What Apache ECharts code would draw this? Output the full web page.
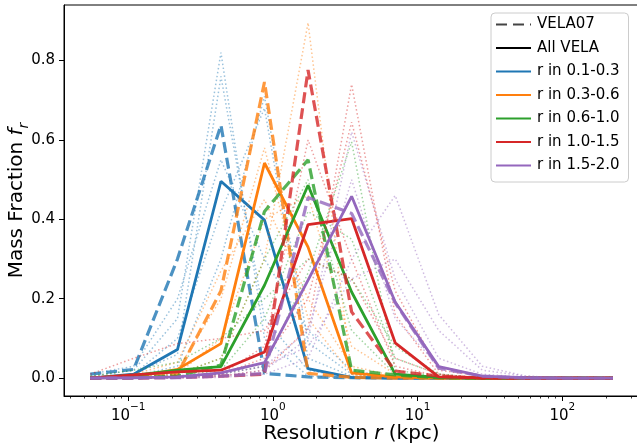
<!DOCTYPE html>
<html><head><meta charset="utf-8">
<script src="https://cdn.jsdelivr.net/npm/echarts@6/dist/echarts.min.js"></script>
<style>html,body{margin:0;padding:0;background:#fff}#c{width:637px;height:446px}</style>
</head><body><div id="c"></div>
<script>
// Resolution bins (kpc)
const resolution = [0.0547, 0.109, 0.219, 0.4375, 0.875, 1.75, 3.5, 7, 14, 28, 56, 112, 224];
const binLabels = ['r in 0.1-0.3', 'r in 0.3-0.6', 'r in 0.6-1.0', 'r in 1.0-1.5', 'r in 1.5-2.0'];
const binColors = ['#1f77b4', '#ff7f0e', '#2ca02c', '#d62728', '#9467bd'];
const xTickValues = [0.1, 1, 10, 100];
const xMinorTicks = [0.04,0.05,0.06,0.07,0.08,0.09,0.2,0.3,0.4,0.5,0.6,0.7,0.8,0.9,2,3,4,5,6,7,8,9,20,30,40,50,60,70,80,90,200,300];
const yTickValues = [0, 0.2, 0.4, 0.6, 0.8];

// All VELA (solid)
const allBlue   = [0, 0.01, 0.072, 0.496, 0.398, 0.024, 0.002, 0, 0, 0, 0, 0, 0];
const allOrange = [0, 0.003, 0.022, 0.087, 0.542, 0.33, 0.013, 0.003, 0, 0, 0, 0, 0];
const allGreen  = [0, 0.007, 0.02, 0.029, 0.234, 0.486, 0.217, 0.01, 0.002, 0, 0, 0, 0];
const allRed    = [0, 0.008, 0.016, 0.02, 0.066, 0.387, 0.402, 0.089, 0.003, 0.001, 0, 0, 0];
const allPurple = [0, 0.001, 0.003, 0.013, 0.039, 0.247, 0.458, 0.192, 0.029, 0.005, 0.001, 0, 0];

// VELA07 (dashed)
const v07Blue   = [0.01, 0.022, 0.30, 0.637, 0.012, 0.003, 0.001, 0, 0, 0, 0, 0, 0];
const v07Orange = [0, 0.002, 0.01, 0.22, 0.746, 0.012, 0.002, 0, 0, 0, 0, 0, 0];
const v07Green  = [0, 0.001, 0.005, 0.033, 0.42, 0.55, 0.02, 0.008, 0.001, 0, 0, 0, 0];
const v07Red    = [0, 0, 0.002, 0.005, 0.01, 0.776, 0.167, 0.018, 0.005, 0, 0, 0, 0];
const v07Purple = [0, 0, 0.001, 0.005, 0.012, 0.455, 0.415, 0.19, 0.025, 0.005, 0, 0, 0];

// individual galaxies (dotted)
const dotBlue1 = [0.005, 0.02, 0.15, 0.82, 0.1, 0.005, 0, 0, 0, 0, 0, 0, 0];
const dotBlue2 = [0, 0.01, 0.06, 0.76, 0.15, 0.02, 0.002, 0, 0, 0, 0, 0, 0];
const dotBlue3 = [0, 0.005, 0.03, 0.3, 0.71, 0.09, 0.01, 0, 0, 0, 0, 0, 0];
const dotBlue4 = [0, 0.01, 0.1, 0.42, 0.68, 0.05, 0.005, 0, 0, 0, 0, 0, 0];
const dotBlue5 = [0.01, 0.03, 0.2, 0.55, 0.3, 0.12, 0.02, 0, 0, 0, 0, 0, 0];
const dotOrange1 = [0, 0.002, 0.01, 0.05, 0.3, 0.895, 0.01, 0.002, 0, 0, 0, 0, 0];
const dotOrange2 = [0, 0.005, 0.02, 0.2, 0.58, 0.15, 0.01, 0, 0, 0, 0, 0, 0];
const dotOrange3 = [0, 0.002, 0.01, 0.1, 0.4, 0.46, 0.08, 0.01, 0, 0, 0, 0, 0];
const dotOrange4 = [0.005, 0.01, 0.04, 0.27, 0.45, 0.2, 0.03, 0.005, 0, 0, 0, 0, 0];
const dotGreen1 = [0, 0, 0.002, 0.01, 0.03, 0.265, 0.595, 0.02, 0.005, 0, 0, 0, 0];
const dotGreen2 = [0, 0.002, 0.01, 0.05, 0.3, 0.5, 0.12, 0.01, 0, 0, 0, 0, 0];
const dotGreen3 = [0, 0, 0.005, 0.02, 0.15, 0.42, 0.35, 0.05, 0.01, 0, 0, 0, 0];
const dotGreen4 = [0.005, 0.02, 0.04, 0.1, 0.2, 0.3, 0.25, 0.08, 0.01, 0, 0, 0, 0];
const dotRed1 = [0, 0, 0, 0.005, 0.02, 0.126, 0.74, 0.16, 0.01, 0, 0, 0, 0];
const dotRed2 = [0, 0, 0.005, 0.01, 0.05, 0.2, 0.645, 0.22, 0.02, 0.005, 0, 0, 0];
const dotRed3 = [0, 0, 0.005, 0.01, 0.08, 0.6, 0.3, 0.03, 0.005, 0, 0, 0, 0];
const dotRed4 = [0.01, 0.05, 0.087, 0.1, 0.12, 0.3, 0.25, 0.05, 0.01, 0, 0, 0, 0];
const dotPurple1 = [0, 0, 0, 0.002, 0.01, 0.05, 0.3, 0.46, 0.16, 0.03, 0.005, 0, 0];
const dotPurple2 = [0, 0, 0.002, 0.005, 0.02, 0.1, 0.62, 0.25, 0.05, 0.01, 0.002, 0, 0];
const dotPurple3 = [0, 0, 0.002, 0.01, 0.03, 0.12, 0.5, 0.15, 0.03, 0.005, 0, 0, 0];
const dotPurple4 = [0, 0, 0.003, 0.01, 0.03, 0.08, 0.25, 0.3, 0.12, 0.02, 0.005, 0, 0];

const allVela = [allBlue, allOrange, allGreen, allRed, allPurple];
const vela07 = [v07Blue, v07Orange, v07Green, v07Red, v07Purple];
const dotted = [
  [dotBlue1, dotBlue2, dotBlue3, dotBlue4, dotBlue5],
  [dotOrange1, dotOrange2, dotOrange3, dotOrange4],
  [dotGreen1, dotGreen2, dotGreen3, dotGreen4],
  [dotRed1, dotRed2, dotRed3, dotRed4],
  [dotPurple1, dotPurple2, dotPurple3, dotPurple4]
];

const pairs = arr => arr.map((v, i) => [resolution[i], v]);
const series = [];
binColors.forEach((col, b) => {
  dotted[b].forEach((arr, j) => {
    series.push({type: 'line', name: 'gal' + b + '_' + j, data: pairs(arr), symbol: 'none', silent: true,
      lineStyle: {color: col, width: 1.5, type: [1.5, 2.5], opacity: 0.45}, z: 2 + b * 3});
  });
  series.push({type: 'line', name: 'v07_' + b, data: pairs(vela07[b]), symbol: 'none', silent: true,
    lineStyle: {color: col, width: 3.2, type: [11, 5], opacity: 0.8}, z: 3 + b * 3});
  series.push({type: 'line', name: 'all_' + b, data: pairs(allVela[b]), symbol: 'none', silent: true,
    lineStyle: {color: col, width: 2.8}, z: 4 + b * 3});
});
// legend entries
series.push({type: 'line', name: 'VELA07', data: [], symbol: 'none', itemStyle: {color: '#444'}, lineStyle: {color: '#444', width: 3, type: [11, 6]}});
series.push({type: 'line', name: 'All VELA', data: [], symbol: 'none', itemStyle: {color: '#000'}, lineStyle: {color: '#000', width: 3}});
binLabels.forEach((lab, b) => {
  series.push({type: 'line', name: lab, data: [], symbol: 'none', itemStyle: {color: binColors[b]}, lineStyle: {color: binColors[b], width: 3}});
});

const supMap = e => (e < 0 ? '\u2212' + (-e) : '' + e);
const chart = echarts.init(document.getElementById('c'), null, {renderer: 'canvas'});
chart.setOption({
  animation: false,
  backgroundColor: '#fff',
  textStyle: {fontFamily: 'DejaVu Sans'},
  grid: {left: 64, top: 5, width: 575, height: 391, show: true, borderColor: '#000', borderWidth: 1,
    backgroundColor: 'transparent', containLabel: false, outerBoundsMode: 'none'},
  legend: {
    orient: 'vertical', left: 491, top: 13,
    data: ['VELA07', 'All VELA'].concat(binLabels),
    itemWidth: 35, itemHeight: 16, itemGap: 8.5,
    padding: [4, 9, 9, 4],
    itemStyle: {opacity: 0},
    backgroundColor: 'rgba(255,255,255,0.8)', borderColor: '#ccc', borderWidth: 1, borderRadius: 4,
    textStyle: {fontSize: 15, color: '#000', fontFamily: 'DejaVu Sans', padding: [0, 0, 0, 1]},
    selectedMode: false
  },
  xAxis: [{
    type: 'log', logBase: 10, min: 0.036, max: 339, position: 'bottom',
    axisLine: {show: true, onZero: false, lineStyle: {color: '#000', width: 1}},
    axisTick: {show: true, length: 5, lineStyle: {color: '#000', width: 1}, customValues: xTickValues},
    axisLabel: {customValues: xTickValues, margin: 6, color: '#000',
      formatter: v => '{b|10}{s|' + supMap(Math.round(Math.log10(v))) + '}',
      rich: {b: {fontSize: 15, fontFamily: 'DejaVu Sans', color: '#000', lineHeight: 22, verticalAlign: 'bottom'},
             s: {fontSize: 10.5, fontFamily: 'DejaVu Sans', color: '#000', lineHeight: 14, verticalAlign: 'top'}}},
    splitLine: {show: false}, minorTick: {show: false},
    name: 'Resolution {i|r} (kpc)', nameLocation: 'middle', nameGap: 28, nameMoveOverlap: false,
    nameTextStyle: {fontSize: 20, color: '#000', fontFamily: 'DejaVu Sans',
      rich: {i: {fontSize: 20, fontStyle: 'italic', fontFamily: 'DejaVu Sans', color: '#000'}}}
  }, {
    type: 'log', logBase: 10, min: 0.036, max: 339, position: 'bottom', gridIndex: 0,
    axisLine: {show: false, onZero: false},
    axisTick: {show: true, length: 2.5, lineStyle: {color: '#000', width: 0.8}, customValues: xMinorTicks},
    axisLabel: {show: false}, splitLine: {show: false}
  }],
  yAxis: {
    type: 'value', min: -0.045, max: 0.94,
    axisLine: {show: true, onZero: false, lineStyle: {color: '#000', width: 1}},
    axisTick: {show: true, length: 5, lineStyle: {color: '#000', width: 1}, customValues: yTickValues},
    axisLabel: {customValues: yTickValues, margin: 9, fontSize: 15, color: '#000', fontFamily: 'DejaVu Sans',
      formatter: v => v.toFixed(1)},
    splitLine: {show: false},
    name: '{a|Mass Fraction }{i|f}{s|r}', nameLocation: 'middle', nameGap: 33, nameMoveOverlap: false,
    nameTextStyle: {fontSize: 20, color: '#000', fontFamily: 'DejaVu Sans',
      rich: {a: {fontSize: 20, fontFamily: 'DejaVu Sans', color: '#000', lineHeight: 24, verticalAlign: 'top'},
             i: {fontSize: 20, fontStyle: 'italic', fontFamily: 'DejaVu Sans', color: '#000', lineHeight: 24, verticalAlign: 'top'},
             s: {fontSize: 14, fontStyle: 'italic', fontFamily: 'DejaVu Sans', color: '#000', lineHeight: 16, verticalAlign: 'bottom'}}}
  },
  series: series
});
</script></body></html>
